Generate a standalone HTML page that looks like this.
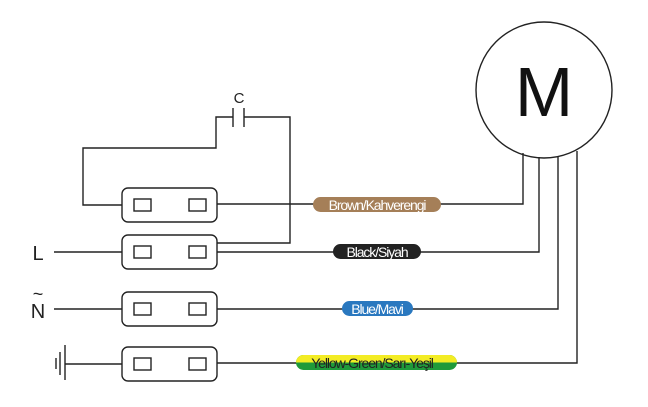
<!DOCTYPE html>
<html><head><meta charset="utf-8"><style>
body{margin:0;background:#fff}
svg{display:block}
text{font-family:"Liberation Sans",sans-serif}
</style></head><body>
<svg width="648" height="407" viewBox="0 0 648 407" xmlns="http://www.w3.org/2000/svg">
<g fill="none" stroke="#222" stroke-width="1.4">
<circle cx="544" cy="90" r="68" fill="#fff"/>
<polyline points="523,153 523,204 217,204"/>
<polyline points="539,157 539,252 217,252"/>
<polyline points="558,157 558,309 217,309"/>
<polyline points="577,151 577,363 217,363"/>
<polyline points="122,205 83,205 83,148 216,148 216,117 233,117"/>
<polyline points="244,117 290,117 290,243 217,243"/>
<line x1="233" y1="108" x2="233" y2="127"/>
<line x1="244" y1="108" x2="244" y2="127"/>
<line x1="54" y1="252" x2="122" y2="252"/>
<line x1="54" y1="309" x2="122" y2="309"/>
<line x1="65" y1="364" x2="122" y2="364"/>
<line x1="65" y1="345" x2="65" y2="380"/>
<line x1="60" y1="352" x2="60" y2="375"/>
<line x1="56" y1="358" x2="56" y2="369"/>
<g fill="#fff">
<rect x="122" y="188" width="95" height="34" rx="6"/>
<rect x="122" y="235" width="95" height="34" rx="6"/>
<rect x="122" y="292" width="95" height="34" rx="6"/>
<rect x="122" y="347" width="95" height="34" rx="6"/>
<rect x="134" y="199" width="17" height="12"/><rect x="189" y="199" width="17" height="12"/>
<rect x="134" y="246" width="17" height="12"/><rect x="189" y="246" width="17" height="12"/>
<rect x="134" y="303" width="17" height="12"/><rect x="189" y="303" width="17" height="12"/>
<rect x="134" y="358" width="17" height="12"/><rect x="189" y="358" width="17" height="12"/>
</g>
</g>
<text x="544" y="116" font-size="70" text-anchor="middle" fill="#111">M</text>
<text x="239" y="103" font-size="15" text-anchor="middle" fill="#222">C</text>
<text x="38" y="260" font-size="20" text-anchor="middle" fill="#222">L</text>
<text x="38" y="318" font-size="20" text-anchor="middle" fill="#222">N</text>
<text x="38" y="300" font-size="18" text-anchor="middle" fill="#222">~</text>
<rect x="313" y="197" width="128" height="15" rx="7.5" fill="#a57f58"/>
<text x="377" y="210" font-size="14" text-anchor="middle" fill="#fff" letter-spacing="-1.1">Brown/Kahverengi</text>
<rect x="333" y="244" width="88" height="15" rx="7.5" fill="#222"/>
<text x="377" y="257" font-size="14" text-anchor="middle" fill="#fff" letter-spacing="-1.1">Black/Siyah</text>
<rect x="342" y="301" width="71" height="15" rx="7.5" fill="#2a78bf"/>
<text x="377" y="314" font-size="14" text-anchor="middle" fill="#fff" letter-spacing="-1.1">Blue/Mavi</text>
<rect x="296" y="355" width="161" height="15" rx="7.5" fill="#1f9a3a"/>
<path d="M303.5,355 H449.5 A7.5,7.5 0 0 1 457,362.5 H296 A7.5,7.5 0 0 1 303.5,355 Z" fill="#f3ec24"/>
<text x="372" y="368" font-size="14" text-anchor="middle" fill="#222" letter-spacing="-1.1">Yellow-Green/Sarı-Yeşil</text>
</svg>
</body></html>
